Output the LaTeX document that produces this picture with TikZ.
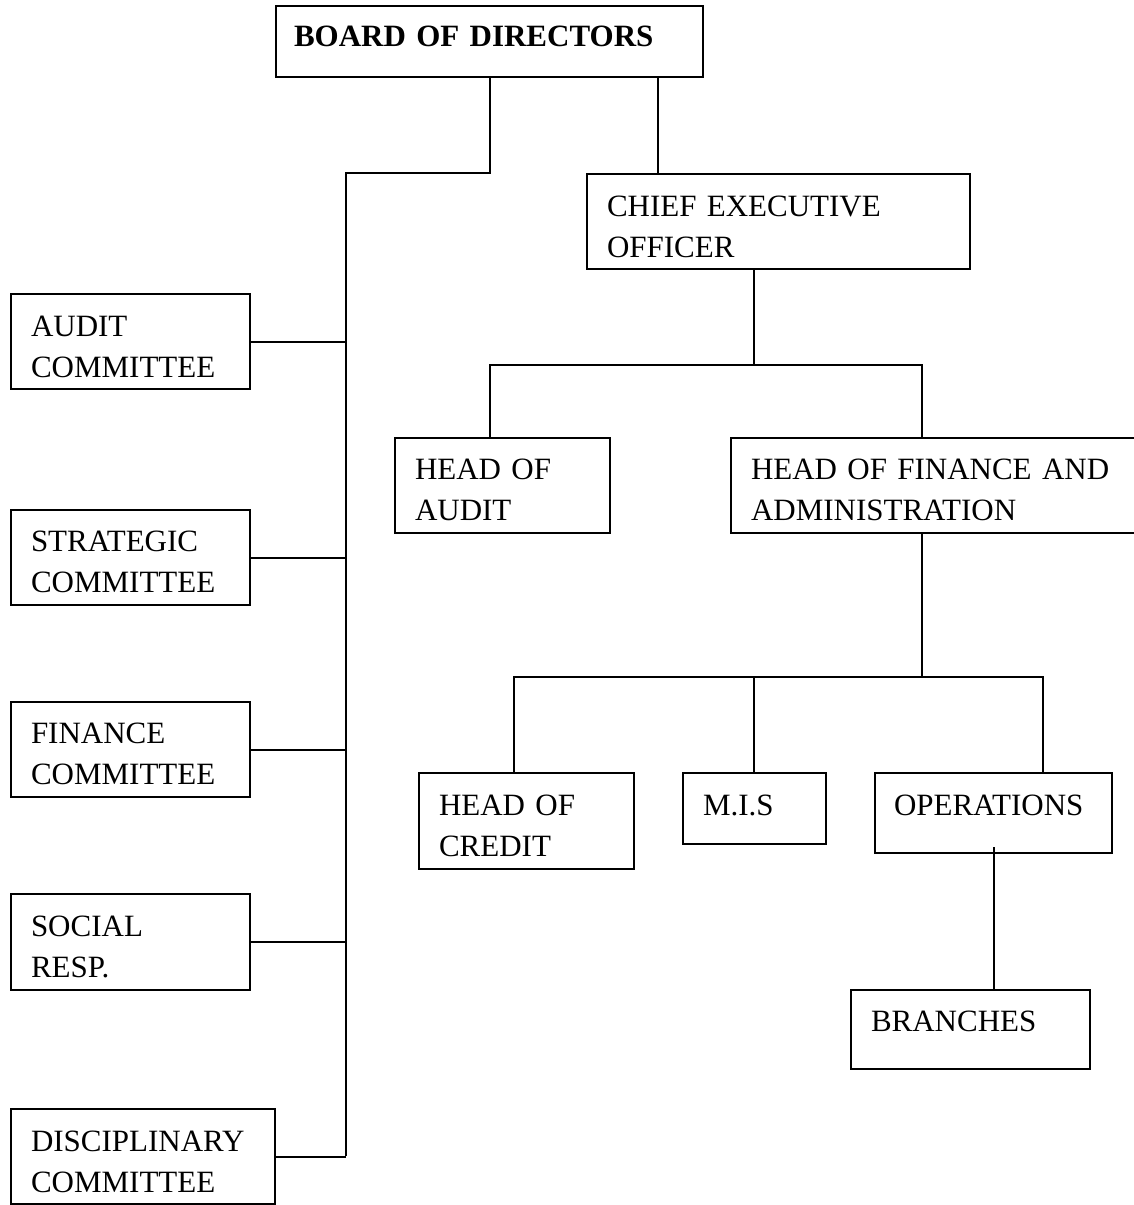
\documentclass[tikz,border=0pt]{standalone}
\usepackage{fontspec}
\setmainfont{Liberation Serif}
\begin{document}
\begin{tikzpicture}[x=1pt,y=-1pt,
  line width=2pt,
  orgbox/.style n args={4}{draw, line width=2pt, anchor=north west, inner xsep=20pt, inner ysep=0pt,
     text width={#1-40pt}, text height=#2, text depth=#3, align=left,
     font=\fontsize{31}{41}\selectfont, minimum height=#4},
  conn/.style={line width=2pt}]
\useasboundingbox (0,0) rectangle (1133,1205);
% boxes: width, text height (top->first baseline), text depth, height
\node[orgbox={431pt}{40pt}{31pt}{71pt}, inner xsep=18pt] (board) at (275,5) {\textbf{BOARD OF DIRECTORS}};
\node[orgbox={383pt}{42pt}{53pt}{95pt}] (ceo) at (586,173) {CHIEF EXECUTIVE\\OFFICER};
\node[orgbox={239pt}{42pt}{53pt}{95pt}] (audit) at (10,293) {AUDIT\\COMMITTEE};
\node[orgbox={239pt}{41pt}{54pt}{95pt}] (strat) at (10,509) {STRATEGIC\\COMMITTEE};
\node[orgbox={239pt}{41pt}{54pt}{95pt}] (fin) at (10,701) {FINANCE\\COMMITTEE};
\node[orgbox={239pt}{42pt}{54pt}{96pt}] (soc) at (10,893) {SOCIAL\\RESP.};
\node[orgbox={264pt}{42pt}{53pt}{95pt}] (disc) at (10,1108) {DISCIPLINARY\\COMMITTEE};
\node[orgbox={215pt}{41pt}{54pt}{95pt}] (hoa) at (394,437) {HEAD OF\\AUDIT};
\node[orgbox={430pt}{41pt}{54pt}{95pt}] (hof) at (730,437) {HEAD OF FINANCE AND\\ADMINISTRATION};
\node[orgbox={215pt}{42pt}{54pt}{96pt}] (cred) at (418,772) {HEAD OF\\CREDIT};
\node[orgbox={143pt}{42pt}{29pt}{71pt}] (mis) at (682,772) {M.I.S};
\node[orgbox={239pt}{42pt}{38pt}{80pt}, inner xsep=19pt] (ops) at (874,772) {OPERATIONS};
\node[orgbox={239pt}{41pt}{38pt}{79pt}] (br) at (850,989) {BRANCHES};
% coordinates
\coordinate (spTop) at (346,173);
\coordinate (spBot) at (346,1156);
\coordinate (bceo) at (658,173);
\coordinate (cj) at (754,365);
\coordinate (dA) at (490,365);
\coordinate (dF) at (922,365);
\coordinate (fj) at (922,677);
\coordinate (dC) at (514,677);
\coordinate (dM) at (754,677);
\coordinate (dO) at (1043,677);
% connectors
\draw[conn] (board.south) |- (spTop) -- (spBot);
\draw[conn] (audit.east) -- (audit.east -| spTop);
\draw[conn] (strat.east) -- (strat.east -| spTop);
\draw[conn] (fin.east) -- (fin.east -| spTop);
\draw[conn] (soc.east) -- (soc.east -| spTop);
\draw[conn] (disc.east) -- (disc.east -| spTop);
\draw[conn] (bceo |- board.south) -- (bceo);
\draw[conn] (cj |- ceo.south) -- (cj);
\draw[conn] (dA |- hoa.north) -- (dA) -- (dF) -- (dF |- hof.north);
\draw[conn] (fj |- hof.south) -- (fj);
\draw[conn] (dC |- cred.north) -- (dC) -- (dO) -- (dO |- ops.north);
\draw[conn] (dM) -- (dM |- mis.north);
\draw[conn] ([yshift=7pt]ops.south) -- (ops.south |- br.north);
\end{tikzpicture}
\end{document}
